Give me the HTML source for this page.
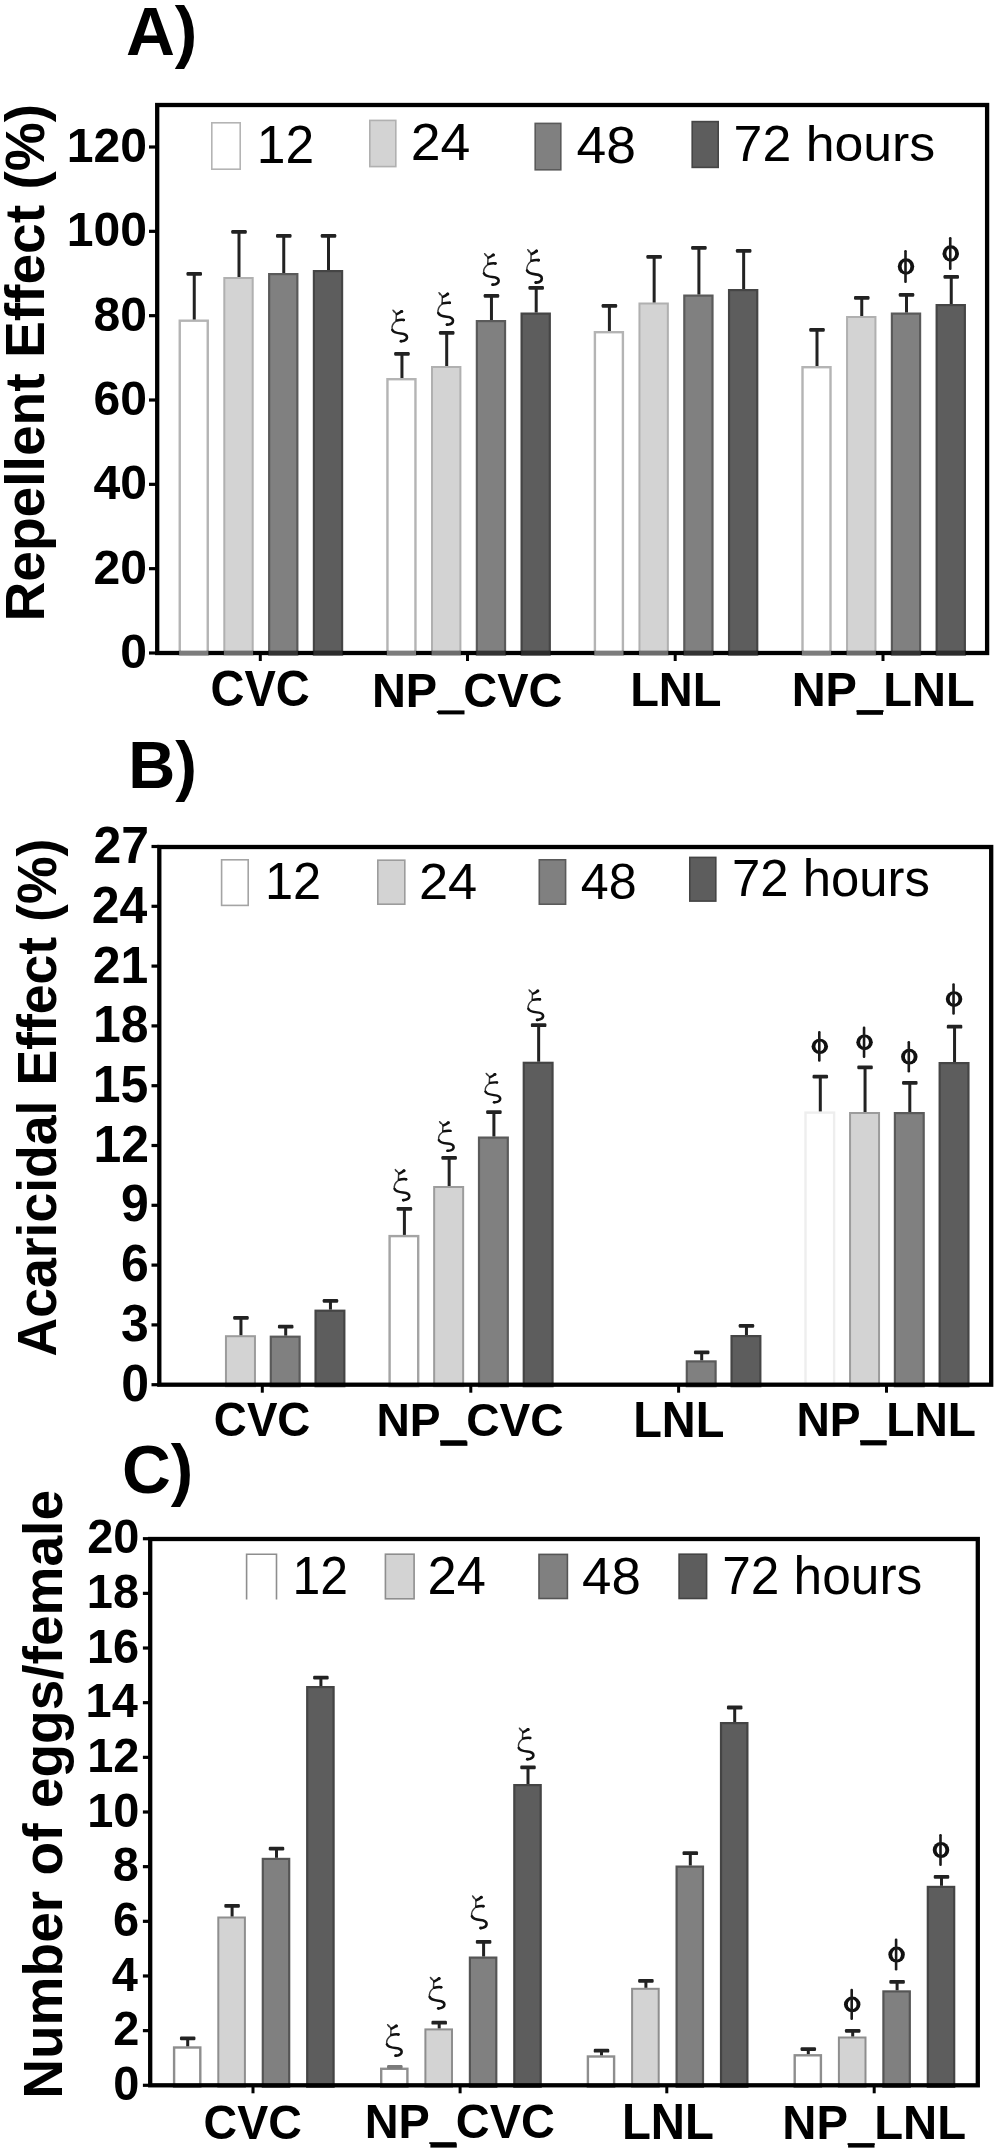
<!DOCTYPE html>
<html><head><meta charset="utf-8"><style>
html,body{margin:0;padding:0;background:#fff;}
svg{display:block;filter:grayscale(100%);}
text{font-family:"Liberation Sans", sans-serif;}
</style></head><body>
<svg width="1000" height="2156" viewBox="0 0 1000 2156">
<rect width="1000" height="2156" fill="#fff"/>
<rect x="179.75" y="320.70" width="28.00" height="333.80" fill="#ffffff" stroke="#b4b4b4" stroke-width="2.4"/>
<rect x="192.75" y="273.00" width="3.00" height="46.50" fill="#222222"/>
<rect x="186.50" y="272.00" width="15.50" height="3.80" rx="1.2" fill="#222222"/>
<rect x="224.30" y="278.00" width="28.40" height="376.50" fill="#d3d3d3" stroke="#b0b0b0" stroke-width="2.0"/>
<rect x="237.50" y="231.00" width="3.00" height="46.00" fill="#222222"/>
<rect x="231.25" y="230.00" width="15.50" height="3.80" rx="1.2" fill="#222222"/>
<rect x="269.15" y="274.10" width="28.20" height="380.40" fill="#808080" stroke="#5a5a5a" stroke-width="2.2"/>
<rect x="282.25" y="235.00" width="3.00" height="38.00" fill="#222222"/>
<rect x="276.00" y="234.00" width="15.50" height="3.80" rx="1.2" fill="#222222"/>
<rect x="313.90" y="271.10" width="28.20" height="383.40" fill="#5d5d5d" stroke="#454545" stroke-width="2.2"/>
<rect x="327.00" y="235.00" width="3.00" height="35.00" fill="#222222"/>
<rect x="320.75" y="234.00" width="15.50" height="3.80" rx="1.2" fill="#222222"/>
<rect x="387.45" y="379.20" width="28.00" height="275.30" fill="#ffffff" stroke="#b4b4b4" stroke-width="2.4"/>
<rect x="400.45" y="353.00" width="3.00" height="25.00" fill="#222222"/>
<rect x="394.20" y="352.00" width="15.50" height="3.80" rx="1.2" fill="#222222"/>
<rect x="432.00" y="367.00" width="28.40" height="287.50" fill="#d3d3d3" stroke="#b0b0b0" stroke-width="2.0"/>
<rect x="445.20" y="332.00" width="3.00" height="34.00" fill="#222222"/>
<rect x="438.95" y="331.00" width="15.50" height="3.80" rx="1.2" fill="#222222"/>
<rect x="476.85" y="321.10" width="28.20" height="333.40" fill="#808080" stroke="#5a5a5a" stroke-width="2.2"/>
<rect x="489.95" y="295.00" width="3.00" height="25.00" fill="#222222"/>
<rect x="483.70" y="294.00" width="15.50" height="3.80" rx="1.2" fill="#222222"/>
<rect x="521.60" y="313.60" width="28.20" height="340.90" fill="#5d5d5d" stroke="#454545" stroke-width="2.2"/>
<rect x="534.70" y="287.00" width="3.00" height="25.50" fill="#222222"/>
<rect x="528.45" y="286.00" width="15.50" height="3.80" rx="1.2" fill="#222222"/>
<rect x="594.90" y="332.20" width="28.00" height="322.30" fill="#ffffff" stroke="#b4b4b4" stroke-width="2.4"/>
<rect x="607.90" y="305.00" width="3.00" height="26.00" fill="#222222"/>
<rect x="601.65" y="304.00" width="15.50" height="3.80" rx="1.2" fill="#222222"/>
<rect x="639.45" y="303.50" width="28.40" height="351.00" fill="#d3d3d3" stroke="#b0b0b0" stroke-width="2.0"/>
<rect x="652.65" y="256.00" width="3.00" height="46.50" fill="#222222"/>
<rect x="646.40" y="255.00" width="15.50" height="3.80" rx="1.2" fill="#222222"/>
<rect x="684.30" y="295.60" width="28.20" height="358.90" fill="#808080" stroke="#5a5a5a" stroke-width="2.2"/>
<rect x="697.40" y="247.00" width="3.00" height="47.50" fill="#222222"/>
<rect x="691.15" y="246.00" width="15.50" height="3.80" rx="1.2" fill="#222222"/>
<rect x="729.05" y="290.10" width="28.20" height="364.40" fill="#5d5d5d" stroke="#454545" stroke-width="2.2"/>
<rect x="742.15" y="250.00" width="3.00" height="39.00" fill="#222222"/>
<rect x="735.90" y="249.00" width="15.50" height="3.80" rx="1.2" fill="#222222"/>
<rect x="802.50" y="367.20" width="28.00" height="287.30" fill="#ffffff" stroke="#b4b4b4" stroke-width="2.4"/>
<rect x="815.50" y="329.00" width="3.00" height="37.00" fill="#222222"/>
<rect x="809.25" y="328.00" width="15.50" height="3.80" rx="1.2" fill="#222222"/>
<rect x="847.05" y="317.00" width="28.40" height="337.50" fill="#d3d3d3" stroke="#b0b0b0" stroke-width="2.0"/>
<rect x="860.25" y="297.00" width="3.00" height="19.00" fill="#222222"/>
<rect x="854.00" y="296.00" width="15.50" height="3.80" rx="1.2" fill="#222222"/>
<rect x="891.90" y="313.60" width="28.20" height="340.90" fill="#808080" stroke="#5a5a5a" stroke-width="2.2"/>
<rect x="905.00" y="294.00" width="3.00" height="18.50" fill="#222222"/>
<rect x="898.75" y="293.00" width="15.50" height="3.80" rx="1.2" fill="#222222"/>
<rect x="936.65" y="305.10" width="28.20" height="349.40" fill="#5d5d5d" stroke="#454545" stroke-width="2.2"/>
<rect x="949.75" y="276.00" width="3.00" height="28.00" fill="#222222"/>
<rect x="943.50" y="275.00" width="15.50" height="3.80" rx="1.2" fill="#222222"/>
<rect x="157.20" y="105.00" width="829.90" height="548.00" fill="none" stroke="#000000" stroke-width="4.3"/>
<rect x="179.15" y="650.90" width="29.20" height="4.2" fill="#7c7c7c"/>
<rect x="223.90" y="650.90" width="29.20" height="4.2" fill="#6c6c6c"/>
<rect x="268.65" y="650.90" width="29.20" height="4.2" fill="#333333"/>
<rect x="313.40" y="650.90" width="29.20" height="4.2" fill="#2c2c2c"/>
<rect x="386.85" y="650.90" width="29.20" height="4.2" fill="#7c7c7c"/>
<rect x="431.60" y="650.90" width="29.20" height="4.2" fill="#6c6c6c"/>
<rect x="476.35" y="650.90" width="29.20" height="4.2" fill="#333333"/>
<rect x="521.10" y="650.90" width="29.20" height="4.2" fill="#2c2c2c"/>
<rect x="594.30" y="650.90" width="29.20" height="4.2" fill="#7c7c7c"/>
<rect x="639.05" y="650.90" width="29.20" height="4.2" fill="#6c6c6c"/>
<rect x="683.80" y="650.90" width="29.20" height="4.2" fill="#333333"/>
<rect x="728.55" y="650.90" width="29.20" height="4.2" fill="#2c2c2c"/>
<rect x="801.90" y="650.90" width="29.20" height="4.2" fill="#7c7c7c"/>
<rect x="846.65" y="650.90" width="29.20" height="4.2" fill="#6c6c6c"/>
<rect x="891.40" y="650.90" width="29.20" height="4.2" fill="#333333"/>
<rect x="936.15" y="650.90" width="29.20" height="4.2" fill="#2c2c2c"/>
<rect x="149" y="651.40" width="8.20" height="3.2" fill="#000000"/>
<rect x="149" y="567.07" width="8.20" height="3.2" fill="#000000"/>
<rect x="149" y="482.73" width="8.20" height="3.2" fill="#000000"/>
<rect x="149" y="398.40" width="8.20" height="3.2" fill="#000000"/>
<rect x="149" y="314.07" width="8.20" height="3.2" fill="#000000"/>
<rect x="149" y="229.73" width="8.20" height="3.2" fill="#000000"/>
<rect x="149" y="145.40" width="8.20" height="3.2" fill="#000000"/>
<text transform="translate(120.24,668.06) scale(0.9894,1)" font-weight="bold" font-size="48.59">0</text>
<text transform="translate(93.56,583.73) scale(0.9894,1)" font-weight="bold" font-size="48.59">20</text>
<text transform="translate(93.56,499.40) scale(0.9894,1)" font-weight="bold" font-size="48.59">40</text>
<text transform="translate(93.56,415.06) scale(0.9894,1)" font-weight="bold" font-size="48.59">60</text>
<text transform="translate(93.56,330.73) scale(0.9894,1)" font-weight="bold" font-size="48.59">80</text>
<text transform="translate(66.87,246.40) scale(0.9894,1)" font-weight="bold" font-size="48.59">100</text>
<text transform="translate(66.87,162.06) scale(0.9894,1)" font-weight="bold" font-size="48.59">120</text>
<rect x="258.80" y="653.0" width="3" height="8" fill="#000000"/>
<rect x="466.00" y="653.0" width="3" height="8" fill="#000000"/>
<rect x="673.70" y="653.0" width="3" height="8" fill="#000000"/>
<rect x="881.50" y="653.0" width="3" height="8" fill="#000000"/>
<text transform="translate(210.42,705.70) scale(0.9356,1)" font-family='"Liberation Sans", sans-serif' font-weight="bold" font-size="50.28" fill="#000">CVC</text>
<text transform="translate(371.95,706.60) scale(0.9707,1)" font-family='"Liberation Sans", sans-serif' font-weight="bold" font-size="48.41" fill="#000">NP_CVC</text>
<text transform="translate(630.14,706.20) scale(0.9657,1)" font-family='"Liberation Sans", sans-serif' font-weight="bold" font-size="48.70" fill="#000">LNL</text>
<text transform="translate(791.64,705.80) scale(0.9900,1)" font-family='"Liberation Sans", sans-serif' font-weight="bold" font-size="47.54" fill="#000">NP_LNL</text>
<text transform="translate(125.91,54.83) scale(0.9899,1)" font-family='"Liberation Sans", sans-serif' font-weight="bold" font-size="68.45" fill="#000">A)</text>
<text transform="translate(44.43,621.58) rotate(-90) scale(1.0012,1)" font-family='"Liberation Sans", sans-serif' font-weight="bold" font-size="55.08" fill="#000">Repellent Effect (%)</text>
<rect x="211.80" y="122.80" width="28.40" height="46.40" fill="#ffffff" stroke="#b4b4b4" stroke-width="1.6"/>
<rect x="369.80" y="120.40" width="26.00" height="46.20" fill="#d3d3d3" stroke="#b0b0b0" stroke-width="1.6"/>
<rect x="535.20" y="123.40" width="25.60" height="46.40" fill="#808080" stroke="#5a5a5a" stroke-width="1.6"/>
<rect x="692.20" y="121.60" width="26.00" height="45.80" fill="#5d5d5d" stroke="#454545" stroke-width="1.6"/>
<text transform="translate(256.73,162.80) scale(0.9551,1)" font-family='"Liberation Sans", sans-serif' font-weight="normal" font-size="54.00" fill="#000">12</text>
<text transform="translate(410.72,160.40) scale(1.0421,1)" font-family='"Liberation Sans", sans-serif' font-weight="normal" font-size="51.43" fill="#000">24</text>
<text transform="translate(576.47,163.29) scale(1.0415,1)" font-family='"Liberation Sans", sans-serif' font-weight="normal" font-size="51.27" fill="#000">48</text>
<text transform="translate(733.61,161.00) scale(1.0191,1)" font-family='"Liberation Sans", sans-serif' font-weight="normal" font-size="50.86" fill="#000">72 hours</text>
<g transform="translate(390.80,309.50) scale(1.0000,0.9593)" fill="none" stroke-linecap="round"><path d="M2.2,0.7 L3.3,2.6 M2.9,1.3 Q4.6,3.4 5.6,4.7 M5.6,4.7 L5.3,11.3 M5.3,12.1 C2.3,14.4 0.7,18.3 1.5,21.2" stroke="#3a3a3a" stroke-width="1.45"/><path d="M10.8,1.8 Q9.0,3.7 6.1,4.9 M6.0,11.5 Q9.6,10.5 13.0,10.9 M1.5,21.2 C2.6,24.1 6.0,24.6 10.0,25.0 C14.0,25.4 16.2,26.6 16.2,29.0 C16.2,31.4 13.6,32.8 10.4,33.2" stroke="#111" stroke-width="2.6"/><circle cx="10.9" cy="2.0" r="1.6" fill="#111"/><circle cx="10.2" cy="33.0" r="1.45" fill="#111"/><circle cx="12.9" cy="11.0" r="1.3" fill="#111"/></g>
<g transform="translate(436.80,292.00) scale(1.0000,0.9884)" fill="none" stroke-linecap="round"><path d="M2.2,0.7 L3.3,2.6 M2.9,1.3 Q4.6,3.4 5.6,4.7 M5.6,4.7 L5.3,11.3 M5.3,12.1 C2.3,14.4 0.7,18.3 1.5,21.2" stroke="#3a3a3a" stroke-width="1.45"/><path d="M10.8,1.8 Q9.0,3.7 6.1,4.9 M6.0,11.5 Q9.6,10.5 13.0,10.9 M1.5,21.2 C2.6,24.1 6.0,24.6 10.0,25.0 C14.0,25.4 16.2,26.6 16.2,29.0 C16.2,31.4 13.6,32.8 10.4,33.2" stroke="#111" stroke-width="2.6"/><circle cx="10.9" cy="2.0" r="1.6" fill="#111"/><circle cx="10.2" cy="33.0" r="1.45" fill="#111"/><circle cx="12.9" cy="11.0" r="1.3" fill="#111"/></g>
<g transform="translate(482.45,253.00) scale(1.0000,0.9593)" fill="none" stroke-linecap="round"><path d="M2.2,0.7 L3.3,2.6 M2.9,1.3 Q4.6,3.4 5.6,4.7 M5.6,4.7 L5.3,11.3 M5.3,12.1 C2.3,14.4 0.7,18.3 1.5,21.2" stroke="#3a3a3a" stroke-width="1.45"/><path d="M10.8,1.8 Q9.0,3.7 6.1,4.9 M6.0,11.5 Q9.6,10.5 13.0,10.9 M1.5,21.2 C2.6,24.1 6.0,24.6 10.0,25.0 C14.0,25.4 16.2,26.6 16.2,29.0 C16.2,31.4 13.6,32.8 10.4,33.2" stroke="#111" stroke-width="2.6"/><circle cx="10.9" cy="2.0" r="1.6" fill="#111"/><circle cx="10.2" cy="33.0" r="1.45" fill="#111"/><circle cx="12.9" cy="11.0" r="1.3" fill="#111"/></g>
<g transform="translate(525.60,249.00) scale(1.0000,1.0174)" fill="none" stroke-linecap="round"><path d="M2.2,0.7 L3.3,2.6 M2.9,1.3 Q4.6,3.4 5.6,4.7 M5.6,4.7 L5.3,11.3 M5.3,12.1 C2.3,14.4 0.7,18.3 1.5,21.2" stroke="#3a3a3a" stroke-width="1.45"/><path d="M10.8,1.8 Q9.0,3.7 6.1,4.9 M6.0,11.5 Q9.6,10.5 13.0,10.9 M1.5,21.2 C2.6,24.1 6.0,24.6 10.0,25.0 C14.0,25.4 16.2,26.6 16.2,29.0 C16.2,31.4 13.6,32.8 10.4,33.2" stroke="#111" stroke-width="2.6"/><circle cx="10.9" cy="2.0" r="1.6" fill="#111"/><circle cx="10.2" cy="33.0" r="1.45" fill="#111"/><circle cx="12.9" cy="11.0" r="1.3" fill="#111"/></g>
<ellipse cx="906.00" cy="266.50" rx="8.25" ry="8.25" fill="#111"/>
<ellipse cx="906.00" cy="266.50" rx="4.35" ry="5.35" fill="#fff"/>
<rect x="904.20" y="250.00" width="2.6" height="33.00" rx="1.2" fill="#1a1a1a"/>
<ellipse cx="950.75" cy="253.50" rx="8.25" ry="8.25" fill="#111"/>
<ellipse cx="950.75" cy="253.50" rx="4.35" ry="5.35" fill="#fff"/>
<rect x="948.95" y="237.00" width="2.6" height="33.00" rx="1.2" fill="#1a1a1a"/>
<rect x="225.95" y="1336.20" width="29.00" height="50.00" fill="#d3d3d3" stroke="#9c9c9c" stroke-width="2.0"/>
<rect x="239.45" y="1317.00" width="3.00" height="18.20" fill="#222222"/>
<rect x="233.20" y="1316.00" width="15.50" height="3.80" rx="1.2" fill="#222222"/>
<rect x="270.80" y="1336.70" width="28.80" height="49.50" fill="#808080" stroke="#5a5a5a" stroke-width="2.2"/>
<rect x="284.20" y="1325.70" width="3.00" height="9.90" fill="#222222"/>
<rect x="277.95" y="1324.70" width="15.50" height="3.80" rx="1.2" fill="#222222"/>
<rect x="315.55" y="1310.70" width="28.80" height="75.50" fill="#5d5d5d" stroke="#454545" stroke-width="2.2"/>
<rect x="328.95" y="1300.00" width="3.00" height="9.60" fill="#222222"/>
<rect x="322.70" y="1299.00" width="15.50" height="3.80" rx="1.2" fill="#222222"/>
<rect x="389.60" y="1236.10" width="28.60" height="150.10" fill="#ffffff" stroke="#a4a4a4" stroke-width="2.4"/>
<rect x="402.90" y="1208.00" width="3.00" height="26.90" fill="#222222"/>
<rect x="396.65" y="1207.00" width="15.50" height="3.80" rx="1.2" fill="#222222"/>
<rect x="434.15" y="1187.00" width="29.00" height="199.20" fill="#d3d3d3" stroke="#9c9c9c" stroke-width="2.0"/>
<rect x="447.65" y="1157.00" width="3.00" height="29.00" fill="#222222"/>
<rect x="441.40" y="1156.00" width="15.50" height="3.80" rx="1.2" fill="#222222"/>
<rect x="479.00" y="1137.60" width="28.80" height="248.60" fill="#808080" stroke="#5a5a5a" stroke-width="2.2"/>
<rect x="492.40" y="1111.20" width="3.00" height="25.30" fill="#222222"/>
<rect x="486.15" y="1110.20" width="15.50" height="3.80" rx="1.2" fill="#222222"/>
<rect x="523.75" y="1062.80" width="28.80" height="323.40" fill="#5d5d5d" stroke="#454545" stroke-width="2.2"/>
<rect x="537.15" y="1024.30" width="3.00" height="37.40" fill="#222222"/>
<rect x="530.90" y="1023.30" width="15.50" height="3.80" rx="1.2" fill="#222222"/>
<rect x="686.80" y="1361.40" width="28.80" height="24.80" fill="#808080" stroke="#5a5a5a" stroke-width="2.2"/>
<rect x="700.20" y="1351.50" width="3.00" height="8.80" fill="#222222"/>
<rect x="693.95" y="1350.50" width="15.50" height="3.80" rx="1.2" fill="#222222"/>
<rect x="731.55" y="1336.10" width="28.80" height="50.10" fill="#5d5d5d" stroke="#454545" stroke-width="2.2"/>
<rect x="744.95" y="1325.00" width="3.00" height="10.00" fill="#222222"/>
<rect x="738.70" y="1324.00" width="15.50" height="3.80" rx="1.2" fill="#222222"/>
<rect x="805.50" y="1112.60" width="28.60" height="273.60" fill="#ffffff" stroke="#eeeeee" stroke-width="2.4"/>
<rect x="818.80" y="1075.70" width="3.00" height="35.70" fill="#222222"/>
<rect x="812.55" y="1074.70" width="15.50" height="3.80" rx="1.2" fill="#222222"/>
<rect x="850.05" y="1113.00" width="29.00" height="273.20" fill="#d3d3d3" stroke="#9c9c9c" stroke-width="2.0"/>
<rect x="863.55" y="1066.50" width="3.00" height="45.50" fill="#222222"/>
<rect x="857.30" y="1065.50" width="15.50" height="3.80" rx="1.2" fill="#222222"/>
<rect x="894.90" y="1113.10" width="28.80" height="273.10" fill="#808080" stroke="#5a5a5a" stroke-width="2.2"/>
<rect x="908.30" y="1081.90" width="3.00" height="30.10" fill="#222222"/>
<rect x="902.05" y="1080.90" width="15.50" height="3.80" rx="1.2" fill="#222222"/>
<rect x="939.65" y="1063.10" width="28.80" height="323.10" fill="#5d5d5d" stroke="#454545" stroke-width="2.2"/>
<rect x="953.05" y="1025.80" width="3.00" height="36.20" fill="#222222"/>
<rect x="946.80" y="1024.80" width="15.50" height="3.80" rx="1.2" fill="#222222"/>
<rect x="159.30" y="847.00" width="831.90" height="537.70" fill="none" stroke="#000000" stroke-width="4.3"/>
<rect x="151.5" y="1383.10" width="7.80" height="3.2" fill="#000000"/>
<rect x="151.5" y="1323.30" width="7.80" height="3.2" fill="#000000"/>
<rect x="151.5" y="1263.50" width="7.80" height="3.2" fill="#000000"/>
<rect x="151.5" y="1203.70" width="7.80" height="3.2" fill="#000000"/>
<rect x="151.5" y="1143.90" width="7.80" height="3.2" fill="#000000"/>
<rect x="151.5" y="1084.10" width="7.80" height="3.2" fill="#000000"/>
<rect x="151.5" y="1024.30" width="7.80" height="3.2" fill="#000000"/>
<rect x="151.5" y="964.50" width="7.80" height="3.2" fill="#000000"/>
<rect x="151.5" y="904.70" width="7.80" height="3.2" fill="#000000"/>
<rect x="151.5" y="844.90" width="7.80" height="3.2" fill="#000000"/>
<text transform="translate(121.27,1400.84) scale(0.9659,1)" font-weight="bold" font-size="51.71">0</text>
<text transform="translate(121.03,1341.04) scale(0.9659,1)" font-weight="bold" font-size="51.71">3</text>
<text transform="translate(121.03,1281.24) scale(0.9659,1)" font-weight="bold" font-size="51.71">6</text>
<text transform="translate(121.03,1221.44) scale(0.9659,1)" font-weight="bold" font-size="51.71">9</text>
<text transform="translate(93.55,1161.90) scale(0.9659,1)" font-weight="bold" font-size="51.71">12</text>
<text transform="translate(92.80,1101.58) scale(0.9659,1)" font-weight="bold" font-size="51.71">15</text>
<text transform="translate(93.05,1042.04) scale(0.9659,1)" font-weight="bold" font-size="51.71">18</text>
<text transform="translate(92.80,982.50) scale(0.9659,1)" font-weight="bold" font-size="51.71">21</text>
<text transform="translate(91.80,922.70) scale(0.9659,1)" font-weight="bold" font-size="51.71">24</text>
<text transform="translate(93.55,862.90) scale(0.9659,1)" font-weight="bold" font-size="51.71">27</text>
<rect x="260.80" y="1384.7" width="3" height="8" fill="#000000"/>
<rect x="469.30" y="1384.7" width="3" height="8" fill="#000000"/>
<rect x="677.10" y="1384.7" width="3" height="8" fill="#000000"/>
<rect x="885.00" y="1384.7" width="3" height="8" fill="#000000"/>
<text transform="translate(213.87,1435.83) scale(0.9661,1)" font-family='"Liberation Sans", sans-serif' font-weight="bold" font-size="47.32" fill="#000">CVC</text>
<text transform="translate(376.40,1435.70) scale(0.9983,1)" font-family='"Liberation Sans", sans-serif' font-weight="bold" font-size="46.23" fill="#000">NP_CVC</text>
<text transform="translate(633.15,1436.80) scale(0.9522,1)" font-family='"Liberation Sans", sans-serif' font-weight="bold" font-size="49.28" fill="#000">LNL</text>
<text transform="translate(796.40,1436.40) scale(0.9777,1)" font-family='"Liberation Sans", sans-serif' font-weight="bold" font-size="47.25" fill="#000">NP_LNL</text>
<text transform="translate(128.17,788.21) scale(0.9632,1)" font-family='"Liberation Sans", sans-serif' font-weight="bold" font-size="67.59" fill="#000">B)</text>
<text transform="translate(55.61,1356.54) rotate(-90) scale(0.9707,1)" font-family='"Liberation Sans", sans-serif' font-weight="bold" font-size="55.19" fill="#000">Acaricidal Effect (%)</text>
<rect x="221.60" y="859.80" width="26.60" height="45.60" fill="#ffffff" stroke="#a4a4a4" stroke-width="1.6"/>
<rect x="377.80" y="860.20" width="27.00" height="44.00" fill="#d3d3d3" stroke="#9c9c9c" stroke-width="1.6"/>
<rect x="539.30" y="859.80" width="26.30" height="44.40" fill="#808080" stroke="#5a5a5a" stroke-width="1.6"/>
<rect x="689.80" y="857.40" width="26.00" height="43.70" fill="#5d5d5d" stroke="#454545" stroke-width="1.6"/>
<text transform="translate(265.01,898.60) scale(0.9831,1)" font-family='"Liberation Sans", sans-serif' font-weight="normal" font-size="51.43" fill="#000">12</text>
<text transform="translate(418.88,899.00) scale(1.0367,1)" font-family='"Liberation Sans", sans-serif' font-weight="normal" font-size="50.57" fill="#000">24</text>
<text transform="translate(580.74,898.89) scale(0.9908,1)" font-family='"Liberation Sans", sans-serif' font-weight="normal" font-size="50.70" fill="#000">48</text>
<text transform="translate(732.06,896.20) scale(0.9883,1)" font-family='"Liberation Sans", sans-serif' font-weight="normal" font-size="51.43" fill="#000">72 hours</text>
<g transform="translate(393.10,1168.90) scale(1.0000,0.9448)" fill="none" stroke-linecap="round"><path d="M2.2,0.7 L3.3,2.6 M2.9,1.3 Q4.6,3.4 5.6,4.7 M5.6,4.7 L5.3,11.3 M5.3,12.1 C2.3,14.4 0.7,18.3 1.5,21.2" stroke="#3a3a3a" stroke-width="1.45"/><path d="M10.8,1.8 Q9.0,3.7 6.1,4.9 M6.0,11.5 Q9.6,10.5 13.0,10.9 M1.5,21.2 C2.6,24.1 6.0,24.6 10.0,25.0 C14.0,25.4 16.2,26.6 16.2,29.0 C16.2,31.4 13.6,32.8 10.4,33.2" stroke="#111" stroke-width="2.6"/><circle cx="10.9" cy="2.0" r="1.6" fill="#111"/><circle cx="10.2" cy="33.0" r="1.45" fill="#111"/><circle cx="12.9" cy="11.0" r="1.3" fill="#111"/></g>
<g transform="translate(437.40,1121.00) scale(1.0000,0.9012)" fill="none" stroke-linecap="round"><path d="M2.2,0.7 L3.3,2.6 M2.9,1.3 Q4.6,3.4 5.6,4.7 M5.6,4.7 L5.3,11.3 M5.3,12.1 C2.3,14.4 0.7,18.3 1.5,21.2" stroke="#3a3a3a" stroke-width="1.45"/><path d="M10.8,1.8 Q9.0,3.7 6.1,4.9 M6.0,11.5 Q9.6,10.5 13.0,10.9 M1.5,21.2 C2.6,24.1 6.0,24.6 10.0,25.0 C14.0,25.4 16.2,26.6 16.2,29.0 C16.2,31.4 13.6,32.8 10.4,33.2" stroke="#111" stroke-width="2.6"/><circle cx="10.9" cy="2.0" r="1.6" fill="#111"/><circle cx="10.2" cy="33.0" r="1.45" fill="#111"/><circle cx="12.9" cy="11.0" r="1.3" fill="#111"/></g>
<g transform="translate(484.00,1072.70) scale(1.0000,0.8953)" fill="none" stroke-linecap="round"><path d="M2.2,0.7 L3.3,2.6 M2.9,1.3 Q4.6,3.4 5.6,4.7 M5.6,4.7 L5.3,11.3 M5.3,12.1 C2.3,14.4 0.7,18.3 1.5,21.2" stroke="#3a3a3a" stroke-width="1.45"/><path d="M10.8,1.8 Q9.0,3.7 6.1,4.9 M6.0,11.5 Q9.6,10.5 13.0,10.9 M1.5,21.2 C2.6,24.1 6.0,24.6 10.0,25.0 C14.0,25.4 16.2,26.6 16.2,29.0 C16.2,31.4 13.6,32.8 10.4,33.2" stroke="#111" stroke-width="2.6"/><circle cx="10.9" cy="2.0" r="1.6" fill="#111"/><circle cx="10.2" cy="33.0" r="1.45" fill="#111"/><circle cx="12.9" cy="11.0" r="1.3" fill="#111"/></g>
<g transform="translate(526.90,989.20) scale(1.0000,0.9273)" fill="none" stroke-linecap="round"><path d="M2.2,0.7 L3.3,2.6 M2.9,1.3 Q4.6,3.4 5.6,4.7 M5.6,4.7 L5.3,11.3 M5.3,12.1 C2.3,14.4 0.7,18.3 1.5,21.2" stroke="#3a3a3a" stroke-width="1.45"/><path d="M10.8,1.8 Q9.0,3.7 6.1,4.9 M6.0,11.5 Q9.6,10.5 13.0,10.9 M1.5,21.2 C2.6,24.1 6.0,24.6 10.0,25.0 C14.0,25.4 16.2,26.6 16.2,29.0 C16.2,31.4 13.6,32.8 10.4,33.2" stroke="#111" stroke-width="2.6"/><circle cx="10.9" cy="2.0" r="1.6" fill="#111"/><circle cx="10.2" cy="33.0" r="1.45" fill="#111"/><circle cx="12.9" cy="11.0" r="1.3" fill="#111"/></g>
<ellipse cx="819.80" cy="1046.40" rx="8.25" ry="7.70" fill="#111"/>
<ellipse cx="819.80" cy="1046.40" rx="4.35" ry="4.80" fill="#fff"/>
<rect x="818.00" y="1031.00" width="2.6" height="30.80" rx="1.2" fill="#1a1a1a"/>
<ellipse cx="864.55" cy="1042.30" rx="8.25" ry="7.85" fill="#111"/>
<ellipse cx="864.55" cy="1042.30" rx="4.35" ry="4.95" fill="#fff"/>
<rect x="862.75" y="1026.60" width="2.6" height="31.40" rx="1.2" fill="#1a1a1a"/>
<ellipse cx="909.30" cy="1056.70" rx="8.25" ry="7.85" fill="#111"/>
<ellipse cx="909.30" cy="1056.70" rx="4.35" ry="4.95" fill="#fff"/>
<rect x="907.50" y="1041.00" width="2.6" height="31.40" rx="1.2" fill="#1a1a1a"/>
<ellipse cx="954.05" cy="999.05" rx="8.25" ry="7.88" fill="#111"/>
<ellipse cx="954.05" cy="999.05" rx="4.35" ry="4.97" fill="#fff"/>
<rect x="952.25" y="983.30" width="2.6" height="31.50" rx="1.2" fill="#1a1a1a"/>
<rect x="174.10" y="2047.50" width="26.20" height="39.30" fill="#ffffff" stroke="#8e8e8e" stroke-width="2.4"/>
<rect x="186.20" y="2037.50" width="3.00" height="8.80" fill="#222222"/>
<rect x="179.95" y="2036.50" width="15.50" height="3.80" rx="1.2" fill="#222222"/>
<rect x="218.30" y="1917.50" width="26.60" height="169.30" fill="#d3d3d3" stroke="#8e8e8e" stroke-width="2.0"/>
<rect x="230.60" y="1904.90" width="3.00" height="11.60" fill="#222222"/>
<rect x="224.35" y="1903.90" width="15.50" height="3.80" rx="1.2" fill="#222222"/>
<rect x="262.80" y="1858.90" width="26.40" height="227.90" fill="#808080" stroke="#555555" stroke-width="2.2"/>
<rect x="275.00" y="1847.70" width="3.00" height="10.10" fill="#222222"/>
<rect x="268.75" y="1846.70" width="15.50" height="3.80" rx="1.2" fill="#222222"/>
<rect x="307.20" y="1687.10" width="26.40" height="399.70" fill="#5d5d5d" stroke="#444444" stroke-width="2.2"/>
<rect x="319.40" y="1676.70" width="3.00" height="9.30" fill="#222222"/>
<rect x="313.15" y="1675.70" width="15.50" height="3.80" rx="1.2" fill="#222222"/>
<rect x="381.20" y="2068.80" width="26.20" height="18.00" fill="#ffffff" stroke="#8e8e8e" stroke-width="2.4"/>
<rect x="393.30" y="2066.00" width="3.00" height="1.60" fill="#7a7a7a"/>
<rect x="387.05" y="2065.00" width="15.50" height="3.80" rx="1.2" fill="#7a7a7a"/>
<rect x="425.40" y="2029.40" width="26.60" height="57.40" fill="#d3d3d3" stroke="#8e8e8e" stroke-width="2.0"/>
<rect x="437.70" y="2021.80" width="3.00" height="6.60" fill="#222222"/>
<rect x="431.45" y="2020.80" width="15.50" height="3.80" rx="1.2" fill="#222222"/>
<rect x="469.90" y="1957.60" width="26.40" height="129.20" fill="#808080" stroke="#555555" stroke-width="2.2"/>
<rect x="482.10" y="1940.90" width="3.00" height="15.60" fill="#222222"/>
<rect x="475.85" y="1939.90" width="15.50" height="3.80" rx="1.2" fill="#222222"/>
<rect x="514.30" y="1785.10" width="26.40" height="301.70" fill="#5d5d5d" stroke="#444444" stroke-width="2.2"/>
<rect x="526.50" y="1766.50" width="3.00" height="17.50" fill="#222222"/>
<rect x="520.25" y="1765.50" width="15.50" height="3.80" rx="1.2" fill="#222222"/>
<rect x="587.90" y="2056.50" width="26.20" height="30.30" fill="#ffffff" stroke="#8e8e8e" stroke-width="2.4"/>
<rect x="600.00" y="2049.80" width="3.00" height="5.50" fill="#222222"/>
<rect x="593.75" y="2048.80" width="15.50" height="3.80" rx="1.2" fill="#222222"/>
<rect x="632.10" y="1988.80" width="26.60" height="98.00" fill="#d3d3d3" stroke="#8e8e8e" stroke-width="2.0"/>
<rect x="644.40" y="1979.90" width="3.00" height="7.90" fill="#222222"/>
<rect x="638.15" y="1978.90" width="15.50" height="3.80" rx="1.2" fill="#222222"/>
<rect x="676.60" y="1866.60" width="26.40" height="220.20" fill="#808080" stroke="#555555" stroke-width="2.2"/>
<rect x="688.80" y="1852.30" width="3.00" height="13.20" fill="#222222"/>
<rect x="682.55" y="1851.30" width="15.50" height="3.80" rx="1.2" fill="#222222"/>
<rect x="721.00" y="1723.10" width="26.40" height="363.70" fill="#5d5d5d" stroke="#444444" stroke-width="2.2"/>
<rect x="733.20" y="1706.60" width="3.00" height="15.40" fill="#222222"/>
<rect x="726.95" y="1705.60" width="15.50" height="3.80" rx="1.2" fill="#222222"/>
<rect x="794.70" y="2055.30" width="26.20" height="31.50" fill="#ffffff" stroke="#8e8e8e" stroke-width="2.4"/>
<rect x="806.80" y="2048.20" width="3.00" height="5.90" fill="#222222"/>
<rect x="800.55" y="2047.20" width="15.50" height="3.80" rx="1.2" fill="#222222"/>
<rect x="838.90" y="2037.50" width="26.60" height="49.30" fill="#d3d3d3" stroke="#8e8e8e" stroke-width="2.0"/>
<rect x="851.20" y="2030.00" width="3.00" height="6.50" fill="#222222"/>
<rect x="844.95" y="2029.00" width="15.50" height="3.80" rx="1.2" fill="#222222"/>
<rect x="883.40" y="1991.40" width="26.40" height="95.40" fill="#808080" stroke="#555555" stroke-width="2.2"/>
<rect x="895.60" y="1980.90" width="3.00" height="9.40" fill="#222222"/>
<rect x="889.35" y="1979.90" width="15.50" height="3.80" rx="1.2" fill="#222222"/>
<rect x="927.80" y="1886.90" width="26.40" height="199.90" fill="#5d5d5d" stroke="#444444" stroke-width="2.2"/>
<rect x="940.00" y="1875.90" width="3.00" height="9.90" fill="#222222"/>
<rect x="933.75" y="1874.90" width="15.50" height="3.80" rx="1.2" fill="#222222"/>
<rect x="150.20" y="1539.00" width="827.60" height="546.30" fill="none" stroke="#000000" stroke-width="4.3"/>
<rect x="142.9" y="2083.70" width="7.30" height="3.2" fill="#000000"/>
<rect x="142.9" y="2029.04" width="7.30" height="3.2" fill="#000000"/>
<rect x="142.9" y="1974.38" width="7.30" height="3.2" fill="#000000"/>
<rect x="142.9" y="1919.72" width="7.30" height="3.2" fill="#000000"/>
<rect x="142.9" y="1865.06" width="7.30" height="3.2" fill="#000000"/>
<rect x="142.9" y="1810.40" width="7.30" height="3.2" fill="#000000"/>
<rect x="142.9" y="1755.74" width="7.30" height="3.2" fill="#000000"/>
<rect x="142.9" y="1701.08" width="7.30" height="3.2" fill="#000000"/>
<rect x="142.9" y="1646.42" width="7.30" height="3.2" fill="#000000"/>
<rect x="142.9" y="1591.76" width="7.30" height="3.2" fill="#000000"/>
<rect x="142.9" y="1537.10" width="7.30" height="3.2" fill="#000000"/>
<text transform="translate(113.32,2099.82) scale(0.9748,1)" font-weight="bold" font-size="48.17">0</text>
<text transform="translate(113.32,2045.40) scale(0.9748,1)" font-weight="bold" font-size="48.17">2</text>
<text transform="translate(111.67,1990.50) scale(0.9748,1)" font-weight="bold" font-size="48.17">4</text>
<text transform="translate(113.08,1935.84) scale(0.9748,1)" font-weight="bold" font-size="48.17">6</text>
<text transform="translate(112.85,1881.18) scale(0.9748,1)" font-weight="bold" font-size="48.17">8</text>
<text transform="translate(87.26,1826.52) scale(0.9748,1)" font-weight="bold" font-size="48.17">10</text>
<text transform="translate(87.26,1772.10) scale(0.9748,1)" font-weight="bold" font-size="48.17">12</text>
<text transform="translate(85.61,1717.20) scale(0.9748,1)" font-weight="bold" font-size="48.17">14</text>
<text transform="translate(87.02,1662.54) scale(0.9748,1)" font-weight="bold" font-size="48.17">16</text>
<text transform="translate(86.79,1607.88) scale(0.9748,1)" font-weight="bold" font-size="48.17">18</text>
<text transform="translate(87.26,1553.22) scale(0.9748,1)" font-weight="bold" font-size="48.17">20</text>
<rect x="251.50" y="2085.3" width="3" height="8" fill="#000000"/>
<rect x="458.60" y="2085.3" width="3" height="8" fill="#000000"/>
<rect x="665.30" y="2085.3" width="3" height="8" fill="#000000"/>
<rect x="872.70" y="2085.3" width="3" height="8" fill="#000000"/>
<text transform="translate(203.54,2138.62) scale(0.9636,1)" font-family='"Liberation Sans", sans-serif' font-weight="bold" font-size="48.31" fill="#000">CVC</text>
<text transform="translate(364.65,2137.90) scale(0.9803,1)" font-family='"Liberation Sans", sans-serif' font-weight="bold" font-size="47.83" fill="#000">NP_CVC</text>
<text transform="translate(621.92,2138.50) scale(0.9638,1)" font-family='"Liberation Sans", sans-serif' font-weight="bold" font-size="49.13" fill="#000">LNL</text>
<text transform="translate(782.33,2138.60) scale(0.9879,1)" font-family='"Liberation Sans", sans-serif' font-weight="bold" font-size="47.83" fill="#000">NP_LNL</text>
<text transform="translate(121.90,1492.72) scale(0.9933,1)" font-family='"Liberation Sans", sans-serif' font-weight="bold" font-size="68.02" fill="#000">C)</text>
<text transform="translate(61.92,2098.78) rotate(-90) scale(0.9901,1)" font-family='"Liberation Sans", sans-serif' font-weight="bold" font-size="55.61" fill="#000">Number of eggs/female</text>
<path d="M246.60,1599.60 V1554.20 H276.50 V1599.60" fill="none" stroke="#8e8e8e" stroke-width="1.6"/>
<rect x="385.40" y="1554.20" width="28.70" height="44.60" fill="#d3d3d3" stroke="#8e8e8e" stroke-width="1.6"/>
<rect x="539.00" y="1554.40" width="28.40" height="44.10" fill="#808080" stroke="#555555" stroke-width="1.6"/>
<rect x="679.10" y="1554.20" width="27.50" height="44.30" fill="#5d5d5d" stroke="#444444" stroke-width="1.6"/>
<text transform="translate(292.45,1594.20) scale(0.9250,1)" font-family='"Liberation Sans", sans-serif' font-weight="normal" font-size="54.00" fill="#000">12</text>
<text transform="translate(427.58,1594.20) scale(0.9865,1)" font-family='"Liberation Sans", sans-serif' font-weight="normal" font-size="53.14" fill="#000">24</text>
<text transform="translate(582.08,1593.68) scale(1.0082,1)" font-family='"Liberation Sans", sans-serif' font-weight="normal" font-size="52.39" fill="#000">48</text>
<text transform="translate(722.13,1594.20) scale(0.9678,1)" font-family='"Liberation Sans", sans-serif' font-weight="normal" font-size="53.14" fill="#000">72 hours</text>
<g transform="translate(385.45,2024.00) scale(1.0000,0.9593)" fill="none" stroke-linecap="round"><path d="M2.2,0.7 L3.3,2.6 M2.9,1.3 Q4.6,3.4 5.6,4.7 M5.6,4.7 L5.3,11.3 M5.3,12.1 C2.3,14.4 0.7,18.3 1.5,21.2" stroke="#3a3a3a" stroke-width="1.45"/><path d="M10.8,1.8 Q9.0,3.7 6.1,4.9 M6.0,11.5 Q9.6,10.5 13.0,10.9 M1.5,21.2 C2.6,24.1 6.0,24.6 10.0,25.0 C14.0,25.4 16.2,26.6 16.2,29.0 C16.2,31.4 13.6,32.8 10.4,33.2" stroke="#111" stroke-width="2.6"/><circle cx="10.9" cy="2.0" r="1.6" fill="#111"/><circle cx="10.2" cy="33.0" r="1.45" fill="#111"/><circle cx="12.9" cy="11.0" r="1.3" fill="#111"/></g>
<g transform="translate(428.20,1976.70) scale(1.0000,0.9593)" fill="none" stroke-linecap="round"><path d="M2.2,0.7 L3.3,2.6 M2.9,1.3 Q4.6,3.4 5.6,4.7 M5.6,4.7 L5.3,11.3 M5.3,12.1 C2.3,14.4 0.7,18.3 1.5,21.2" stroke="#3a3a3a" stroke-width="1.45"/><path d="M10.8,1.8 Q9.0,3.7 6.1,4.9 M6.0,11.5 Q9.6,10.5 13.0,10.9 M1.5,21.2 C2.6,24.1 6.0,24.6 10.0,25.0 C14.0,25.4 16.2,26.6 16.2,29.0 C16.2,31.4 13.6,32.8 10.4,33.2" stroke="#111" stroke-width="2.6"/><circle cx="10.9" cy="2.0" r="1.6" fill="#111"/><circle cx="10.2" cy="33.0" r="1.45" fill="#111"/><circle cx="12.9" cy="11.0" r="1.3" fill="#111"/></g>
<g transform="translate(470.40,1895.30) scale(1.0000,0.9913)" fill="none" stroke-linecap="round"><path d="M2.2,0.7 L3.3,2.6 M2.9,1.3 Q4.6,3.4 5.6,4.7 M5.6,4.7 L5.3,11.3 M5.3,12.1 C2.3,14.4 0.7,18.3 1.5,21.2" stroke="#3a3a3a" stroke-width="1.45"/><path d="M10.8,1.8 Q9.0,3.7 6.1,4.9 M6.0,11.5 Q9.6,10.5 13.0,10.9 M1.5,21.2 C2.6,24.1 6.0,24.6 10.0,25.0 C14.0,25.4 16.2,26.6 16.2,29.0 C16.2,31.4 13.6,32.8 10.4,33.2" stroke="#111" stroke-width="2.6"/><circle cx="10.9" cy="2.0" r="1.6" fill="#111"/><circle cx="10.2" cy="33.0" r="1.45" fill="#111"/><circle cx="12.9" cy="11.0" r="1.3" fill="#111"/></g>
<g transform="translate(517.20,1727.50) scale(1.0000,0.9593)" fill="none" stroke-linecap="round"><path d="M2.2,0.7 L3.3,2.6 M2.9,1.3 Q4.6,3.4 5.6,4.7 M5.6,4.7 L5.3,11.3 M5.3,12.1 C2.3,14.4 0.7,18.3 1.5,21.2" stroke="#3a3a3a" stroke-width="1.45"/><path d="M10.8,1.8 Q9.0,3.7 6.1,4.9 M6.0,11.5 Q9.6,10.5 13.0,10.9 M1.5,21.2 C2.6,24.1 6.0,24.6 10.0,25.0 C14.0,25.4 16.2,26.6 16.2,29.0 C16.2,31.4 13.6,32.8 10.4,33.2" stroke="#111" stroke-width="2.6"/><circle cx="10.9" cy="2.0" r="1.6" fill="#111"/><circle cx="10.2" cy="33.0" r="1.45" fill="#111"/><circle cx="12.9" cy="11.0" r="1.3" fill="#111"/></g>
<ellipse cx="852.20" cy="2004.40" rx="8.25" ry="7.80" fill="#111"/>
<ellipse cx="852.20" cy="2004.40" rx="4.35" ry="4.90" fill="#fff"/>
<rect x="850.40" y="1988.80" width="2.6" height="31.20" rx="1.2" fill="#1a1a1a"/>
<ellipse cx="896.60" cy="1954.55" rx="8.25" ry="7.98" fill="#111"/>
<ellipse cx="896.60" cy="1954.55" rx="4.35" ry="5.08" fill="#fff"/>
<rect x="894.80" y="1938.60" width="2.6" height="31.90" rx="1.2" fill="#1a1a1a"/>
<ellipse cx="941.00" cy="1850.00" rx="8.25" ry="8.00" fill="#111"/>
<ellipse cx="941.00" cy="1850.00" rx="4.35" ry="5.10" fill="#fff"/>
<rect x="939.20" y="1834.00" width="2.6" height="32.00" rx="1.2" fill="#1a1a1a"/>
<rect x="438.10" y="710.40" width="26.40" height="4.00" fill="#000"/>
<rect x="856.70" y="710.60" width="26.30" height="4.20" fill="#000"/>
<rect x="440.30" y="1441.40" width="27.10" height="4.40" fill="#000"/>
<rect x="860.30" y="1441.00" width="26.40" height="4.40" fill="#000"/>
<rect x="430.40" y="2143.40" width="26.40" height="4.20" fill="#000"/>
<rect x="848.10" y="2143.60" width="26.40" height="4.00" fill="#000"/>
</svg>
</body></html>
